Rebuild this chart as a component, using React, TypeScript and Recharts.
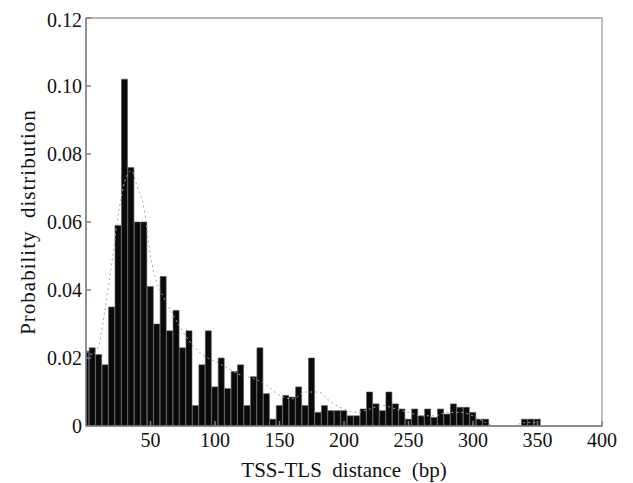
import React from "react";
import { ComposedChart, Bar, Line, XAxis, YAxis, ReferenceArea } from "recharts";

const binCenters = [
  0, 5, 10, 15, 20, 25, 30, 35, 40, 45, 50, 55, 60, 65, 70, 75, 80, 85, 90, 95,
  100, 105, 110, 115, 120, 125, 130, 135, 140, 145, 150, 155, 160, 165, 170, 175, 180, 185, 190, 195,
  200, 205, 210, 215, 220, 225, 230, 235, 240, 245, 250, 255, 260, 265, 270, 275, 280, 285, 290, 295,
  300, 305, 310, 315, 320, 325, 330, 335, 340, 345, 350,
];

const probabilities = [
  0.022, 0.023, 0.021, 0.018, 0.035, 0.059, 0.102, 0.076, 0.06, 0.06,
  0.041, 0.03, 0.044, 0.028, 0.034, 0.023, 0.028, 0.006, 0.018, 0.028,
  0.0115, 0.02, 0.011, 0.016, 0.018, 0.006, 0.0145, 0.023, 0.0095, 0.002,
  0.006, 0.009, 0.0085, 0.0115, 0.006, 0.02, 0.004, 0.006, 0.0045, 0.0045,
  0.0045, 0.003, 0.003, 0.005, 0.01, 0.0065, 0.0045, 0.01, 0.0065, 0.005,
  0.002, 0.005, 0.003, 0.005, 0.0025, 0.005, 0.0035, 0.0065, 0.0055, 0.0055,
  0.004, 0.002, 0.002, 0, 0, 0, 0, 0, 0.002, 0.002, 0.002,
];

const curveX = [0, 5, 10, 15, 20, 25, 30, 35, 40, 45, 50, 55, 60, 70, 80, 90, 100, 110, 120, 130, 140, 150, 160, 170, 180, 190, 200, 210, 220, 230, 240, 250, 260, 270, 280, 290, 300, 310, 320, 330, 340, 350];
const curveY = [0.022, 0.021, 0.024, 0.035, 0.048, 0.062, 0.072, 0.075, 0.07, 0.064, 0.05, 0.042, 0.038, 0.031, 0.025, 0.021, 0.019, 0.017, 0.015, 0.014, 0.012, 0.009, 0.008, 0.01, 0.01, 0.007, 0.005, 0.004, 0.005, 0.006, 0.005, 0.004, 0.003, 0.003, 0.004, 0.004, 0.003, 0.001, 0, 0, 0.001, 0.001];

const xTicks = [50, 100, 150, 200, 250, 300, 350, 400];
const yTicks = [0, 0.02, 0.04, 0.06, 0.08, 0.1, 0.12];
const xDomain = [0, 400];
const yDomain = [0, 0.12];

const barData = binCenters.map((x, i) => ({ x, p: probabilities[i] }));
const curveData = curveX.map((x, i) => ({ x, d: curveY[i] }));

const font = "'Liberation Serif', 'Times New Roman', serif";
const tickStyle = { fontFamily: font, fontSize: 20, fill: "#111" };
const axisColor = "#808080";

export default function App() {
  return (
    <ComposedChart
      width={625}
      height={475}
      data={barData}
      margin={{ top: 10, right: 31, left: 0, bottom: 0 }}
      barCategoryGap={0}
      barGap={0}
    >
      <XAxis
        dataKey="x"
        type="number"
        domain={xDomain}
        ticks={xTicks}
        allowDataOverflow
        height={57}
        tick={tickStyle}
        tickSize={-5}
        tickMargin={12}
        stroke={axisColor}
        strokeWidth={1.5}
        label={{
          value: "TSS-TLS\u00a0\u00a0distance\u00a0\u00a0(bp)",
          position: "insideBottom",
          offset: 6,
          style: { fontFamily: font, fontSize: 21, fill: "#111" },
        }}
      />
      <XAxis xAxisId="curve" dataKey="x" type="number" domain={xDomain} hide allowDataOverflow />
      <YAxis
        type="number"
        domain={yDomain}
        ticks={yTicks}
        allowDataOverflow
        width={78}
        tick={tickStyle}
        tickFormatter={(v: number) => (v === 0 ? "0" : v.toFixed(2))}
        tickSize={-5}
        tickMargin={9}
        stroke={axisColor}
        strokeWidth={1.5}
        label={{
          value: "Probability\u00a0\u00a0distribution",
          angle: -90,
          position: "insideLeft",
          offset: 20,
          style: { fontFamily: font, fontSize: 21, fill: "#111", textAnchor: "middle", letterSpacing: 1 },
        }}
      />
      <ReferenceArea
        x1={xDomain[0]}
        x2={xDomain[1]}
        y1={yDomain[0]}
        y2={yDomain[1]}
        fill="none"
        fillOpacity={0}
        stroke="#a0a0a0"
        strokeWidth={1.3}
      />
      <Bar dataKey="p" fill="#0a0a0a" stroke="#555" strokeWidth={0.6} isAnimationActive={false} />
      <Line
        xAxisId="curve"
        data={curveData}
        dataKey="d"
        type="monotone"
        stroke="#a8a8a8"
        strokeWidth={1}
        strokeDasharray="2 3"
        dot={false}
        isAnimationActive={false}
      />
    </ComposedChart>
  );
}
